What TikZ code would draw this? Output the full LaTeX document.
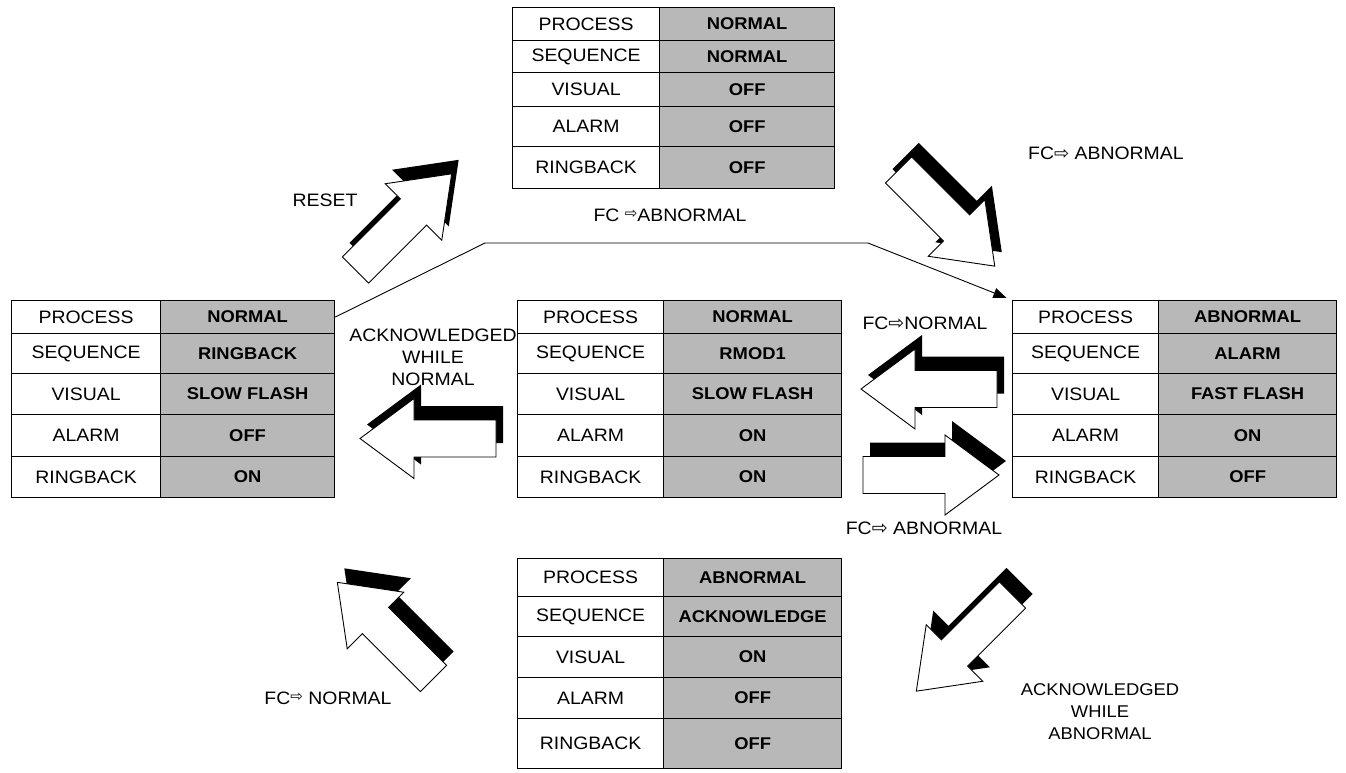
\documentclass[tikz,border=0pt]{standalone}
\usepackage{fontspec}
\setmainfont{Liberation Sans}[FakeStretch=1.08]
\newfontfamily\dvsym{DejaVu Sans}
\usetikzlibrary{arrows.meta}

% one state table: name, left x, divider x, right x, rows k/top/bottom/label/value
\newcommand\statetable[5]{%
  \foreach \k/\ya/\yb/\lab/\val in {#5} {
    \node[labcell, anchor=north west, minimum width=#3-#2, minimum height=\yb-\ya]
      (#1-l\k) at (#2,\ya) {\lab};
    \node[valcell, anchor=north west, minimum width=#4-#3, minimum height=\yb-\ya]
      (#1-v\k) at (#3,\ya) {\val};
  }%
}

% block arrow with a black drop shadow: tail centre x, y and direction
\newcommand\shadearrow[3]{%
  \begin{scope}[shift={(7,-14)}]
    \fill[arrowshade, shift={(#1,#2)}, rotate=#3]
      (0,-18.5) -- (82,-18.5) -- (82,-40) -- (136,0) -- (82,40) -- (82,18.5) -- (0,18.5) -- cycle;
  \end{scope}
  \draw[arrowbody, shift={(#1,#2)}, rotate=#3]
      (0,-18.5) -- (82,-18.5) -- (82,-40) -- (136,0) -- (82,40) -- (82,18.5) -- (0,18.5) -- cycle;
}

% small outlined arrow used in the FC labels
\newcommand\fcarrow[1]{{\dvsym\fontsize{#1}{#1}\selectfont ⇨}}

\begin{document}
\begin{tikzpicture}[x=1pt,y=-1pt,
  labcell/.style={draw, line width=1.2pt, fill=white, inner sep=0pt,
    font=\fontsize{18}{20}\selectfont},
  valcell/.style={draw, line width=1.2pt, fill=black!28, inner sep=0pt,
    font=\fontsize{17}{20}\selectfont\bfseries},
  note/.style={font=\fontsize{18}{22}\selectfont, align=center, inner sep=0pt},
  arrowbody/.style={draw=black, line width=0.9pt, fill=white, line join=miter},
  arrowshade/.style={fill=black},
  link/.style={line width=0.9pt, -{Triangle[length=13pt,width=10pt]}}
]
\useasboundingbox (0,0) rectangle (1346,773);

% ---- state tables ----
\statetable{N}{512}{659}{834}{1/7/40/PROCESS/NORMAL, 2/40/72/SEQUENCE/NORMAL,
  3/72/106/VISUAL/OFF, 4/106/146/ALARM/OFF, 5/146/188/RINGBACK/OFF}
\statetable{L}{11}{160}{334}{1/300/333/PROCESS/NORMAL, 2/333/373/SEQUENCE/RINGBACK,
  3/373/414/VISUAL/SLOW FLASH, 4/414/456/ALARM/OFF, 5/456/497/RINGBACK/ON}
\statetable{M}{517}{663}{841}{1/300/333/PROCESS/NORMAL, 2/333/373/SEQUENCE/RMOD1,
  3/373/414/VISUAL/SLOW FLASH, 4/414/456/ALARM/ON, 5/456/497/RINGBACK/ON}
\statetable{R}{1012}{1158}{1336}{1/300/333/PROCESS/ABNORMAL, 2/333/373/SEQUENCE/ALARM,
  3/373/414/VISUAL/FAST FLASH, 4/414/456/ALARM/ON, 5/456/497/RINGBACK/OFF}
\statetable{B}{517}{663}{841}{1/558/596/PROCESS/ABNORMAL, 2/596/636/SEQUENCE/ACKNOWLEDGE,
  3/636/677/VISUAL/ON, 4/677/718/ALARM/OFF, 5/718/768/RINGBACK/OFF}

% ---- direct transition line ----
\coordinate (bendA) at (485,243);
\coordinate (bendB) at (868,243);
\draw[link, shorten >=6pt] (L-v1.east) -- (bendA) -- (bendB) -- (R-l1.north west);

% ---- block arrows ----
\shadearrow{355.5}{270}{45}
\shadearrow{898.6}{170}{-45}
\shadearrow{997}{389}{180}
\shadearrow{863}{475}{0}
\shadearrow{496}{438.5}{180}
\shadearrow{433.5}{678.5}{135}
\shadearrow{1012.5}{595}{225}

% ---- labels ----
\node[note] (reset) at (325,200) {RESET};
\node[note] (fcab1) at (670,215) {FC \raisebox{3pt}{\fcarrow{15}}ABNORMAL};
\node[note, anchor=west] (fcab2) at (1028,153) {FC\fcarrow{18} ABNORMAL};
\node[note] (fcno1) at (925,323) {FC\fcarrow{19}NORMAL};
\node[note] (fcab3) at (924,528) {FC\fcarrow{19} ABNORMAL};
\node[note] (fcno2) at (328,698) {FC\raisebox{3pt}{\fcarrow{15}} NORMAL};
\node[note] (ackn) at (433,357) {ACKNOWLEDGED\\WHILE\\NORMAL};
\node[note, font=\fontsize{17}{22}\selectfont] (acka) at (1100,712) {ACKNOWLEDGED\\WHILE\\ABNORMAL};
\end{tikzpicture}
\end{document}
